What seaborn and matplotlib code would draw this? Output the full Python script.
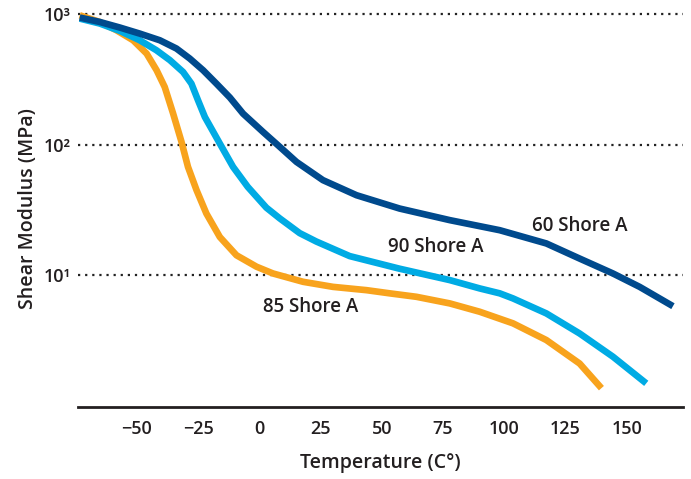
import pandas as pd
import matplotlib
matplotlib.use('Agg')
import matplotlib.pyplot as plt
import seaborn as sns

# ── Data (temperature °C, shear modulus MPa) ─────────────────────────────────
temp_60 = [-73.3, -65.1, -56.9, -48.8, -40.6, -33.8, -28.4, -22.9, -17.5, -12.0, -6.6, 1.6, 8.4,
           15.2, 26.0, 39.7, 57.3, 77.8, 98.2, 117.2, 130.8, 144.4, 155.3, 168.9]
mod_60 = [944, 873, 791, 711, 632, 546, 458, 372, 294, 230, 173, 125, 96.2,
          73.8, 53.5, 41.0, 32.4, 26.4, 22.1, 17.5, 13.4, 10.3, 8.13, 5.78]

temp_90 = [-73.3, -65.1, -56.9, -48.8, -42.0, -36.5, -31.1, -27.7, -25.0, -22.2, -16.1, -10.7, -4.7,
           2.9, 8.4, 16.5, 23.3, 36.9, 57.3, 77.8, 90.0, 98.2, 103.6, 117.2, 130.8, 144.4, 158.0]
mod_90 = [927, 849, 745, 632, 530, 445, 361, 294, 219, 163, 102, 67.6, 47.5,
          32.9, 27.2, 21.0, 18.1, 14.0, 11.2, 9.16, 7.91, 7.25, 6.63, 5.09, 3.57, 2.37, 1.48]

temp_85 = [-73.3, -65.1, -58.3, -51.5, -46.0, -41.9, -38.6, -35.2, -31.8, -29.1, -25.6, -21.6, -16.1,
           -9.3, -1.1, 5.6, 17.9, 30.1, 43.8, 53.3, 64.2, 77.8, 90.0, 103.6, 117.2, 130.8, 139.7]
mod_85 = [982, 873, 754, 632, 500, 372, 277, 174, 106, 67.6, 44.8, 29.7, 19.6,
          14.2, 11.6, 10.3, 8.89, 8.13, 7.67, 7.25, 6.82, 6.07, 5.24, 4.27, 3.18, 2.10, 1.36]

labels = ['60 Shore A', '90 Shore A', '85 Shore A']
label_x = [131, 72, 21]
label_y = [24, 16.4, 5.7]

xticks = [-50, -25, 0, 25, 50, 75, 100, 125, 150]
yticks = [10, 100, 1000]
ytick_labels = ['10¹', '10²', '10³']

COLORS = {'60 Shore A': '#004a8d', '90 Shore A': '#00abe4', '85 Shore A': '#f8a31d'}

df = pd.concat([
    pd.DataFrame({'temp': temp_60, 'modulus': mod_60, 'grade': '60 Shore A'}),
    pd.DataFrame({'temp': temp_90, 'modulus': mod_90, 'grade': '90 Shore A'}),
    pd.DataFrame({'temp': temp_85, 'modulus': mod_85, 'grade': '85 Shore A'}),
], ignore_index=True)

sns.set_theme(style='white')
plt.rcParams['font.family'] = ['Open Sans', 'DejaVu Sans']

fig = plt.figure(figsize=(6.91, 4.79), dpi=100)
ax = fig.add_axes([0.1129, 0.1503, 0.8755, 0.829])

# draw in order so dark blue sits on top
for grade in ['85 Shore A', '90 Shore A', '60 Shore A']:
    sns.lineplot(data=df[df['grade'] == grade], x='temp', y='modulus', color=COLORS[grade],
                 linewidth=4.8, ax=ax, legend=False, sort=False, estimator=None)
for ln in ax.get_lines():
    ln.set_solid_capstyle('butt')
    ln.set_solid_joinstyle('round')

ax.set_yscale('log')
ax.set_xlim(-74, 173)
ax.set_ylim(0.975, 1080)

ax.set_yticks(yticks)
ax.set_yticklabels(ytick_labels)
ax.yaxis.set_minor_locator(matplotlib.ticker.NullLocator())
ax.set_xticks(xticks)
ax.set_xticklabels([f'{t}'.replace('-', '\u2212') for t in xticks])

for yv in yticks:
    ax.axhline(yv, color='#222222', linestyle=(0, (1, 2.2)), linewidth=1.6, zorder=0)

for txt, lx, ly in zip(labels, label_x, label_y):
    ax.text(lx, ly, txt, ha='center', va='center', fontsize=13.5, fontweight='semibold',
            color='#231f20')

for side in ['top', 'right', 'left']:
    ax.spines[side].set_visible(False)
ax.spines['bottom'].set_color('#231f20')
ax.spines['bottom'].set_linewidth(2)

ax.tick_params(axis='both', length=0, labelsize=13, colors='#231f20')
ax.tick_params(axis='x', pad=9)
ax.tick_params(axis='y', pad=5)
for lbl in ax.get_xticklabels() + ax.get_yticklabels():
    lbl.set_fontweight('semibold')

ax.set_xlabel('Temperature (C°)', fontsize=14, fontweight='semibold', color='#231f20', labelpad=11)
ax.set_ylabel('Shear Modulus (MPa)', fontsize=14, fontweight='semibold', color='#231f20', labelpad=4)

fig.savefig('out.png', dpi=100)
